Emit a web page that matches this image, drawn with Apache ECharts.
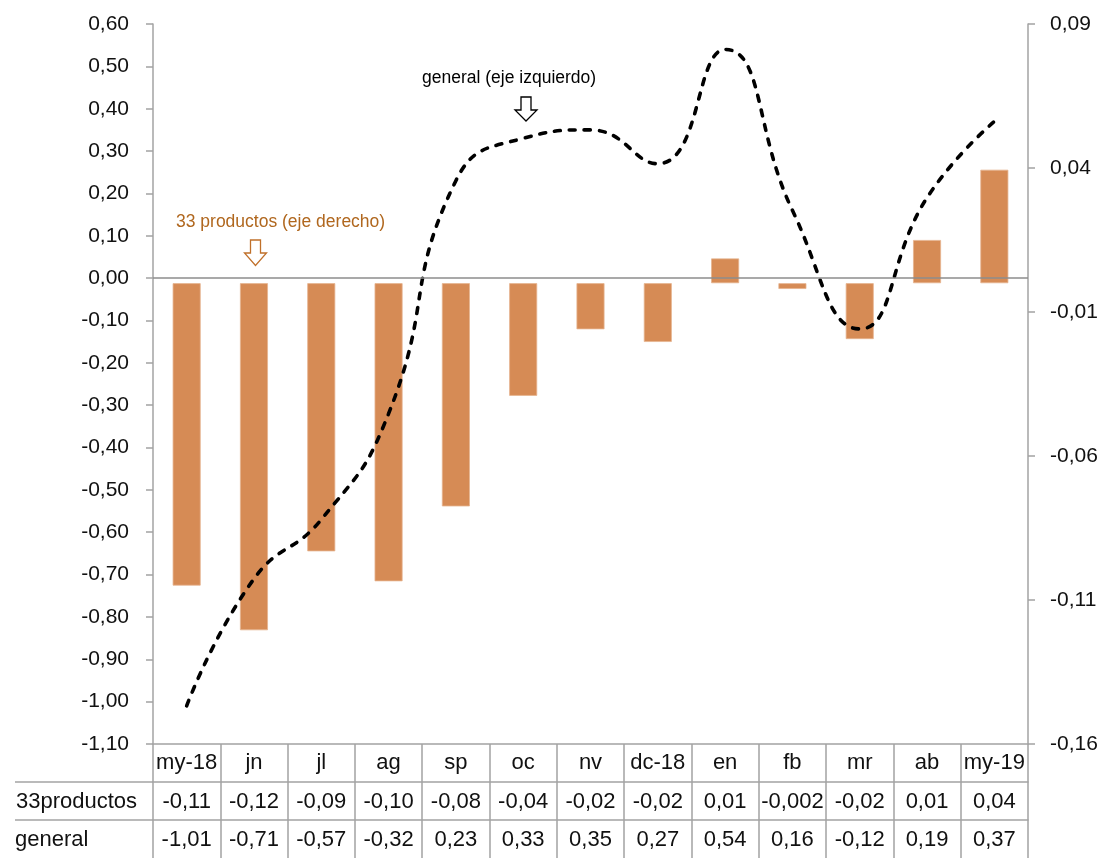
<!DOCTYPE html>
<html><head><meta charset="utf-8">
<script src="https://cdn.jsdelivr.net/npm/echarts@6/dist/echarts.min.js"></script>
<style>html,body{margin:0;padding:0;background:#fff}#c{width:1107px;height:858px}</style>
</head><body><div id="c"></div>
<script>
const categories = ['my-18','jn','jl','ag','sp','oc','nv','dc-18','en','fb','mr','ab','my-19'];
const productos = [-0.1050,-0.1205,-0.0931,-0.1035,-0.0775,-0.0391,-0.0160,-0.0204,0.0086,-0.0020,-0.0194,0.0150,0.0394];
const general = [-1.01,-0.71,-0.57,-0.32,0.23,0.33,0.35,0.27,0.54,0.16,-0.12,0.19,0.37];
const tableProductos = ['-0,11','-0,12','-0,09','-0,10','-0,08','-0,04','-0,02','-0,02','0,01','-0,002','-0,02','0,01','0,04'];
const tableGeneral = ['-1,01','-0,71','-0,57','-0,32','0,23','0,33','0,35','0,27','0,54','0,16','-0,12','0,19','0,37'];
const rowLabels = ['33productos','general'];
const leftTicks = [-1.1,-1.0,-0.9,-0.8,-0.7,-0.6,-0.5,-0.4,-0.3,-0.2,-0.1,0,0.1,0.2,0.3,0.4,0.5,0.6];
const rightTicks = [-0.16,-0.11,-0.06,-0.01,0.04,0.09];
const noteGeneral = 'general (eje izquierdo)';
const noteProductos = '33 productos (eje derecho)';

const FONT = '"Liberation Sans", Arial, sans-serif';
const GRAY = '#a3a3a3';
const fmt = v => (Math.abs(v) < 1e-9 ? 0 : v).toFixed(2).replace('.', ',');

const chart = echarts.init(document.getElementById('c'), null, {renderer: 'canvas'});
chart.setOption({
  backgroundColor: '#fff',
  animation: false,
  grid: {left: 153, right: 79, top: 24, bottom: 114, containLabel: false},
  xAxis: [
    {type: 'category', data: categories, position: 'bottom', boundaryGap: true,
     axisLine: {show: true, onZero: false, lineStyle: {color: GRAY, width: 1.5}},
     axisTick: {show: true, interval: 0, length: 114, lineStyle: {color: GRAY, width: 1.5}},
     axisLabel: {interval: 0, margin: 19, verticalAlign: 'middle', color: '#111', fontSize: 22, fontFamily: FONT},
     splitLine: {show: false}},
    {type: 'category', data: categories, position: 'bottom', offset: 38, boundaryGap: true,
     axisLine: {show: true, onZero: false, lineStyle: {color: GRAY, width: 1.5}},
     axisTick: {show: false},
     axisLabel: {interval: 0, margin: 19.5, verticalAlign: 'middle', color: '#111', fontSize: 22, fontFamily: FONT,
                 formatter: (v, i) => tableProductos[i]},
     splitLine: {show: false}},
    {type: 'category', data: categories, position: 'bottom', offset: 76, boundaryGap: true,
     axisLine: {show: true, onZero: false, lineStyle: {color: GRAY, width: 1.5}},
     axisTick: {show: false},
     axisLabel: {interval: 0, margin: 19.5, verticalAlign: 'middle', color: '#111', fontSize: 22, fontFamily: FONT,
                 formatter: (v, i) => tableGeneral[i]},
     splitLine: {show: false}}
  ],
  yAxis: [
    {type: 'value', position: 'left', min: -1.1, max: 0.6,
     axisLine: {show: true, lineStyle: {color: GRAY, width: 1.5}},
     axisTick: {show: true, length: 7, customValues: leftTicks, lineStyle: {color: GRAY, width: 1.5}},
     axisLabel: {margin: 24, customValues: leftTicks, formatter: fmt, color: '#111', fontSize: 21, fontFamily: FONT},
     splitLine: {show: false}},
    {type: 'value', position: 'right', min: -0.16, max: 0.09,
     axisLine: {show: true, lineStyle: {color: GRAY, width: 1.5}},
     axisTick: {show: true, length: 7, customValues: rightTicks, lineStyle: {color: GRAY, width: 1.5}},
     axisLabel: {margin: 22, customValues: rightTicks, formatter: fmt, color: '#111', fontSize: 21, fontFamily: FONT},
     splitLine: {show: false}}
  ],
  series: [
    {name: '33productos', type: 'bar', xAxisIndex: 0, yAxisIndex: 1, data: productos, barWidth: 28, z: 2,
     itemStyle: {color: '#D68B55', borderColor: '#E6B48F', borderWidth: 0.8}},
    {name: 'general', type: 'line', xAxisIndex: 0, yAxisIndex: 0, data: general, smooth: 0.5, symbol: 'none', z: 3,
     lineStyle: {color: '#000', width: 3.6, type: [6, 9], cap: 'round'},
     markLine: {silent: true, symbol: 'none', label: {show: false}, animation: false,
                lineStyle: {color: '#8c8c8c', width: 1.5, type: 'solid'},
                data: [{yAxis: 0}]}}
  ],
  graphic: [
    {type: 'line', z: 10, shape: {x1: 15, y1: 782, x2: 153, y2: 782}, style: {stroke: GRAY, lineWidth: 1.5}},
    {type: 'line', z: 10, shape: {x1: 15, y1: 820, x2: 153, y2: 820}, style: {stroke: GRAY, lineWidth: 1.5}},
    {type: 'text', z: 10, x: 16, y: 801.5, style: {text: rowLabels[0], fill: '#111', font: '22px ' + FONT, align: 'left', verticalAlign: 'middle'}},
    {type: 'text', z: 10, x: 15, y: 839.5, style: {text: rowLabels[1], fill: '#111', font: '22px ' + FONT, align: 'left', verticalAlign: 'middle'}},
    {type: 'text', z: 10, x: 176, y: 222, style: {text: noteProductos, fill: '#B0671E', font: '17.5px ' + FONT, align: 'left', verticalAlign: 'middle'}},
    {type: 'text', z: 10, x: 422, y: 78, style: {text: noteGeneral, fill: '#000', font: '17.5px ' + FONT, align: 'left', verticalAlign: 'middle'}},
    {type: 'polygon', z: 10, shape: {points: [[250.5,240],[260.5,240],[260.5,253],[266.5,253],[255.5,265.5],[244.5,253],[250.5,253]]},
     style: {fill: '#fff', stroke: '#C0702A', lineWidth: 1.3}},
    {type: 'polygon', z: 10, shape: {points: [[521,97],[531,97],[531,110],[537,110],[526,121],[515,110],[521,110]]},
     style: {fill: '#fff', stroke: '#000', lineWidth: 1.3}}
  ]
});
</script>
</body></html>
